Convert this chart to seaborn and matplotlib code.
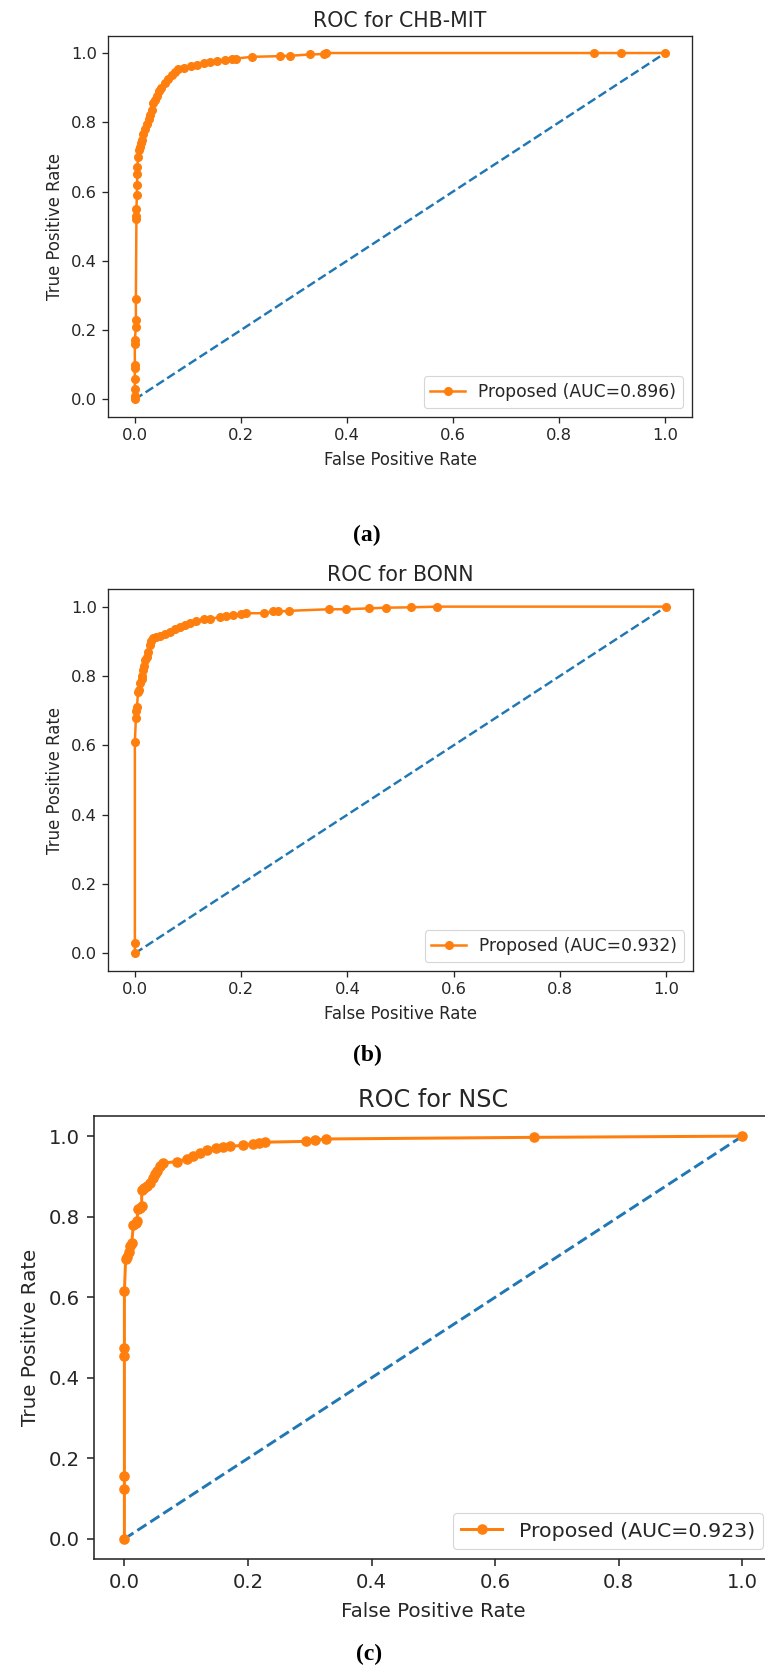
import matplotlib
matplotlib.use("Agg")
import matplotlib.pyplot as plt
import seaborn as sns
import pandas as pd

# ---------------- data ----------------
titles = ["ROC for CHB-MIT", "ROC for BONN", "ROC for NSC"]
auc_values = [0.896, 0.932, 0.923]
panel_tags = ["(a)", "(b)", "(c)"]
tick_values = [0.0, 0.2, 0.4, 0.6, 0.8, 1.0]
chance_fpr = [0.0, 1.0]
chance_tpr = [0.0, 1.0]

chb_fpr = [0.0, 0.0, 0.0, 0.0, 0.0, 0.0, 0.0, 0.0, 0.002, 0.002, 0.002, 0.003, 0.003,
           0.003, 0.004, 0.004, 0.005, 0.005, 0.006, 0.008, 0.009, 0.011, 0.013, 0.016,
           0.020, 0.023, 0.027, 0.029, 0.032, 0.035, 0.038, 0.041, 0.045, 0.050, 0.057,
           0.063, 0.070, 0.076, 0.082, 0.092, 0.105, 0.117, 0.130, 0.142, 0.155, 0.170,
           0.183, 0.190, 0.221, 0.274, 0.293, 0.331, 0.356, 0.360, 0.866, 0.916, 1.0]
chb_tpr = [0.0, 0.01, 0.03, 0.06, 0.09, 0.10, 0.16, 0.17, 0.21, 0.23, 0.29, 0.52, 0.53,
           0.55, 0.59, 0.62, 0.65, 0.67, 0.70, 0.72, 0.73, 0.74, 0.75, 0.765,
           0.78, 0.795, 0.81, 0.82, 0.835, 0.855, 0.865, 0.875, 0.889, 0.90, 0.913,
           0.925, 0.937, 0.946, 0.954, 0.958, 0.962, 0.966, 0.971, 0.974, 0.978, 0.980,
           0.983, 0.984, 0.989, 0.991, 0.992, 0.996, 0.997, 1.0, 1.0, 1.0, 1.0]

bonn_fpr = [0.0, 0.0, 0.0, 0.002, 0.003, 0.004, 0.006, 0.008, 0.010, 0.0125, 0.014,
            0.0156, 0.018, 0.020, 0.022, 0.025, 0.028, 0.031, 0.034, 0.040, 0.047, 0.056,
            0.066, 0.075, 0.085, 0.095, 0.103, 0.116, 0.130, 0.141, 0.160, 0.172, 0.185,
            0.200, 0.210, 0.244, 0.260, 0.270, 0.291, 0.366, 0.398, 0.441, 0.473, 0.520,
            0.568, 1.0]
bonn_tpr = [0.0, 0.03, 0.61, 0.68, 0.70, 0.71, 0.755, 0.76, 0.78, 0.79, 0.80,
            0.817, 0.83, 0.845, 0.856, 0.87, 0.889, 0.90, 0.909, 0.912, 0.915, 0.922,
            0.928, 0.935, 0.941, 0.947, 0.952, 0.960, 0.963, 0.965, 0.969, 0.972, 0.976,
            0.979, 0.981, 0.981, 0.986, 0.986, 0.988, 0.9925, 0.9925, 0.995, 0.997, 0.998,
            1.0, 1.0]

nsc_fpr = [0.0, 0.0, 0.0, 0.0, 0.0, 0.0, 0.002, 0.004, 0.007, 0.009, 0.012, 0.0144,
           0.018, 0.0198, 0.0225, 0.025, 0.028, 0.028, 0.032, 0.036, 0.0414, 0.0468,
           0.050, 0.0522, 0.0576, 0.063, 0.0846, 0.1008, 0.1116, 0.1224, 0.133, 0.149,
           0.160, 0.171, 0.192, 0.208, 0.218, 0.227, 0.294, 0.308, 0.327, 0.663, 1.0]
nsc_tpr = [0.0, 0.124, 0.155, 0.453, 0.474, 0.615, 0.694, 0.70, 0.712, 0.727, 0.735, 0.78,
           0.785, 0.789, 0.818, 0.822, 0.826, 0.867, 0.872, 0.876, 0.884, 0.896,
           0.905, 0.913, 0.925, 0.933, 0.937, 0.943, 0.951, 0.958, 0.965, 0.971,
           0.973, 0.975, 0.977, 0.981, 0.983, 0.985, 0.987, 0.990, 0.993, 0.997, 1.0]

curves = [(chb_fpr, chb_tpr), (bonn_fpr, bonn_tpr), (nsc_fpr, nsc_tpr)]

# ---------------- layout (pixels) ----------------
W, H, DPI = 765, 1669, 100
boxes = [(108.3, 35.7, 691.7, 416.7),
         (108.3, 589.3, 692.7, 970.7),
         (93.5, 1116.0, 773.3, 1559.0)]
scales = [1.0, 1.0, 1.2]
title_sizes = [14.8, 14.8, 17.2]
title_pads = [6.0, 6.0, 6.5]
tag_pos = [(367, 535), (367, 1055), (369, 1654)]

plt.rcParams["font.family"] = ["DejaVu Sans"]
ORANGE = "#ff7f0e"
BLUE = "#1f77b4"
INK = "#262626"

fig = plt.figure(figsize=(W / DPI, H / DPI), dpi=DPI)
fig.patch.set_facecolor("white")

for i in range(3):
    l, t, r, b = boxes[i]
    s = scales[i]
    ax = fig.add_axes([l / W, 1 - b / H, (r - l) / W, (b - t) / H])
    ax.set_facecolor("white")
    sns.lineplot(x=chance_fpr, y=chance_tpr, ax=ax, color=BLUE, linestyle="--",
                 linewidth=1.75 * s)
    df = pd.DataFrame({"fpr": curves[i][0], "tpr": curves[i][1]})
    sns.lineplot(data=df, x="fpr", y="tpr", ax=ax, estimator=None, sort=False,
                 color=ORANGE, marker=".", markersize=11 * s,
                 markeredgecolor=ORANGE, markeredgewidth=1.0,
                 linewidth=1.8 * s, label=f"Proposed (AUC={auc_values[i]:.3f})")
    ax.set_xlim(-0.05, 1.05)
    ax.set_ylim(-0.05, 1.05)
    ax.set_xticks(tick_values)
    ax.set_yticks(tick_values)
    ax.set_xticklabels([f"{v:.1f}" for v in tick_values])
    ax.set_yticklabels([f"{v:.1f}" for v in tick_values])
    ax.tick_params(length=4.1 * s, width=0.95 * s, pad=4.1 * s,
                   labelsize=11.8 * s, color=INK, labelcolor=INK)
    for sp in ax.spines.values():
        sp.set_linewidth(0.95 * s)
        sp.set_color(INK)
    ax.set_xlabel("False Positive Rate", fontsize=11.9 * s, color=INK, labelpad=6 * s)
    ax.set_ylabel("True Positive Rate", fontsize=11.9 * s, color=INK, labelpad=5 * s)
    ax.set_title(titles[i], fontsize=title_sizes[i], color=INK, pad=title_pads[i])
    leg = ax.legend(loc="lower right", fontsize=12.3 * s, frameon=True,
                    handlelength=2.0)
    leg.get_frame().set_edgecolor("#cccccc")
    leg.get_frame().set_linewidth(0.8)
    for txt in leg.get_texts():
        txt.set_color(INK)
    fig.text(tag_pos[i][0] / W, 1 - tag_pos[i][1] / H, panel_tags[i],
             ha="center", va="center", fontsize=17, fontweight="bold",
             family=["Liberation Serif", "DejaVu Serif"], color="black")

fig.savefig("out.png", dpi=DPI, facecolor="white")
